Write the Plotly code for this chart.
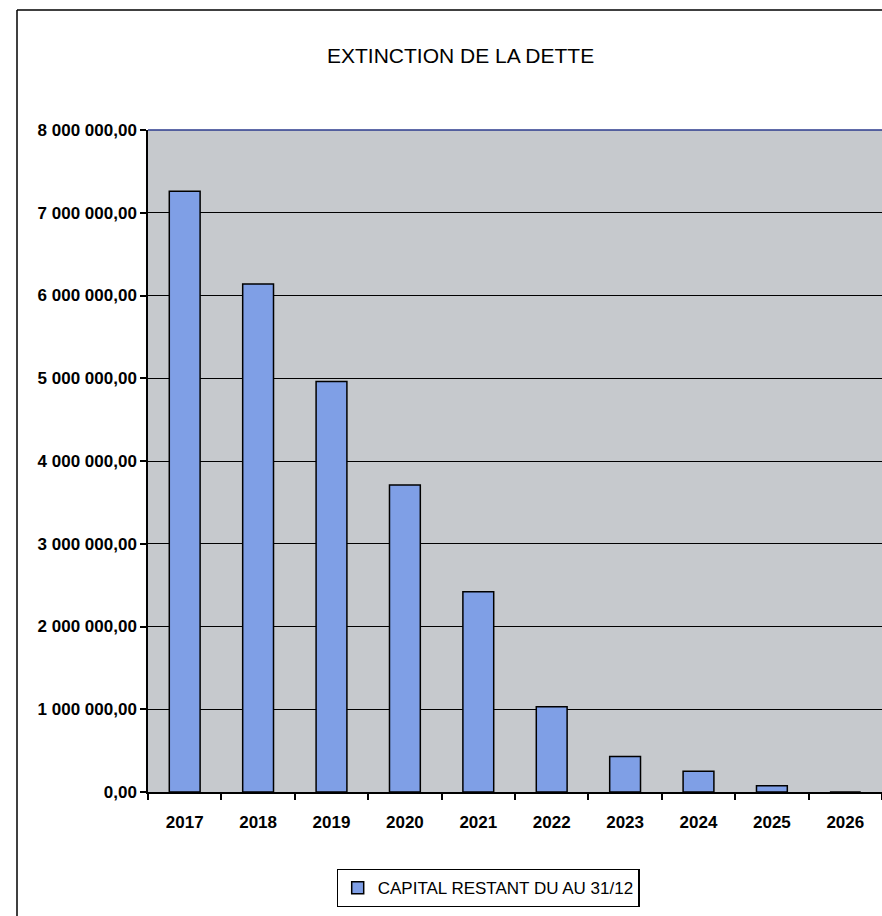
import plotly.graph_objects as go

years = ["2017", "2018", "2019", "2020", "2021", "2022", "2023", "2024", "2025", "2026"]
capital = [7260000, 6140000, 4960000, 3710000, 2420000, 1030000, 430000, 250000, 75000, 0]
y_tickvals = [0, 1000000, 2000000, 3000000, 4000000, 5000000, 6000000, 7000000, 8000000]
y_ticktext = ["0,00", "1 000 000,00", "2 000 000,00", "3 000 000,00", "4 000 000,00",
              "5 000 000,00", "6 000 000,00", "7 000 000,00", "8 000 000,00"]
series_name = "CAPITAL RESTANT DU AU 31/12"
title_text = "EXTINCTION DE LA DETTE"

W, H = 882, 916
L, R, T, B = 148, 0, 130, 124
pw, ph = W - L - R, H - T - B

def px_x(x):
    return (x - L) / pw

def px_y(y):
    return (H - B - y) / ph

fig = go.Figure()
fig.add_trace(go.Bar(
    x=years, y=capital, name=series_name,
    marker=dict(color="#7f9fe6", line=dict(color="#000000", width=1.5)),
    showlegend=True,
))

fig.update_layout(
    width=W, height=H,
    margin=dict(l=L, r=R, t=T, b=B),
    paper_bgcolor="white",
    plot_bgcolor="#c6c9cd",
    font=dict(family="Liberation Sans, Arial, sans-serif", color="#000000"),
    bargap=0.58,
    showlegend=True,
    legend=dict(
        orientation="h", x=px_x(488), y=px_y(869), xanchor="center", yanchor="top",
        bordercolor="#000000", borderwidth=1.2, bgcolor="white",
        font=dict(size=17, family="Liberation Sans, Arial"),
        itemwidth=30,
    ),
    annotations=[dict(
        text=title_text, xref="paper", yref="paper",
        x=px_x(460), y=px_y(55), xanchor="center", yanchor="middle",
        showarrow=False, font=dict(size=21, family="Liberation Sans, Arial"),
    )],
    shapes=[
        dict(type="line", xref="paper", yref="paper", x0=px_x(17), x1=px_x(882), y0=px_y(10), y1=px_y(10),
             line=dict(color="#000000", width=1.5)),
        dict(type="line", xref="paper", yref="paper", x0=px_x(17), x1=px_x(17), y0=px_y(10), y1=px_y(916),
             line=dict(color="#000000", width=1.5)),
        dict(type="line", xref="paper", yref="paper", x0=0, x1=1, y0=1, y1=1,
             line=dict(color="#2b3a8c", width=1.5)),
    ],
)

fig.update_xaxes(
    type="category", tickson="boundaries", ticks="outside", ticklen=6, tickwidth=1.5,
    tickcolor="#000000", showline=True, linecolor="#000000", linewidth=1.5,
    showgrid=False, tickfont=dict(size=17, family="Liberation Sans, Arial", weight="bold"),
    ticklabelstandoff=14,
)
fig.update_yaxes(
    range=[0, 8000000], tickvals=y_tickvals, ticktext=y_ticktext,
    ticks="outside", ticklen=6, tickwidth=1.5, tickcolor="#000000",
    showline=True, linecolor="#000000", linewidth=1.5,
    showgrid=True, gridcolor="#000000", gridwidth=1.2, zeroline=False,
    tickfont=dict(size=17, family="Liberation Sans, Arial", weight="bold"),
)

fig.write_html("out.html", config={"displayModeBar": False},
               post_script="document.body.style.margin='0px';")
